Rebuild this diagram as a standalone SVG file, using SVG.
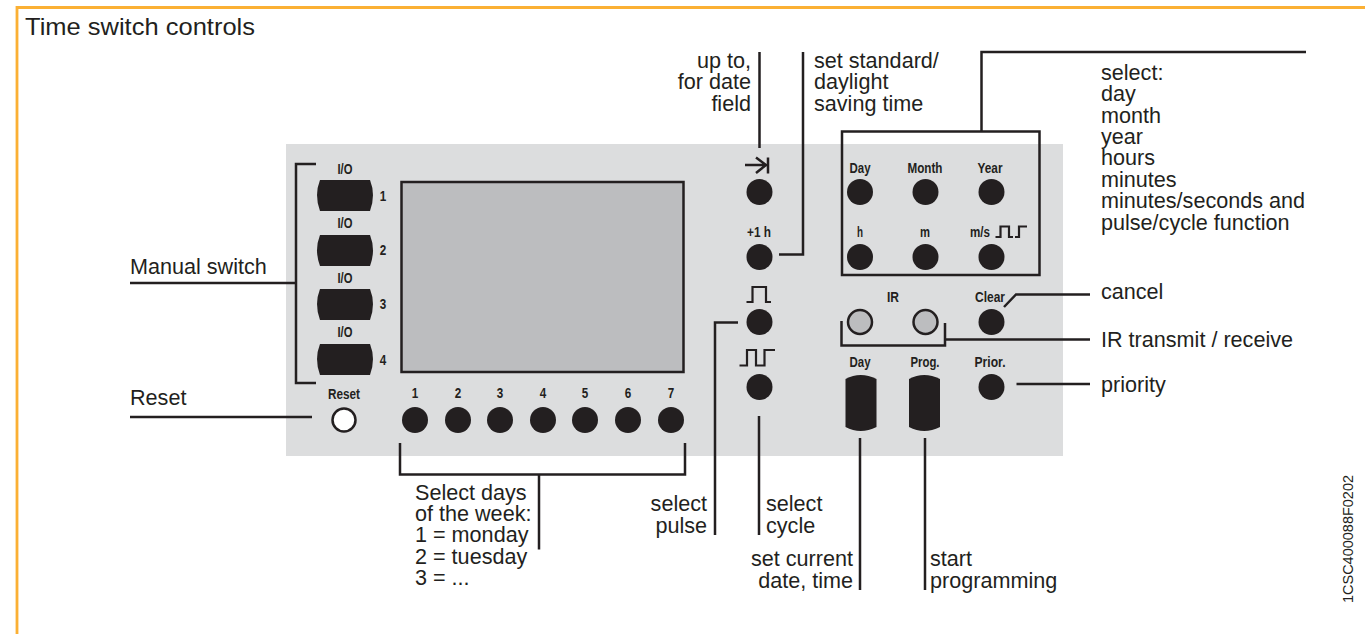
<svg xmlns="http://www.w3.org/2000/svg" width="1365" height="634" viewBox="0 0 1365 634">
<style>
text{font-family:"Liberation Sans",Arial,sans-serif;fill:#231f20}
.t{font-size:21.600px}
.l{font-size:14.500px;font-weight:bold;text-anchor:middle}
.w{fill:none;stroke:#231f20;stroke-width:2.500}
.s{fill:none;stroke:#231f20;stroke-width:2.200}
.b{fill:#231f20}
</style>
<defs>
<path id="sw" d="M3 0H53Q59 15 53 31H3Q-3 15 3 0Z"/>
<path id="key" d="M0 4Q15 -4 31 4V52Q15 60 0 52Z"/>
</defs>
<rect width="1365" height="634" fill="#fff"/>
<path d="M17 634V7.500H1365" fill="none" stroke="#fbb034" stroke-width="2.800"/>
<text x="25" y="35" style="font-size:23.800px;" textLength="230" lengthAdjust="spacingAndGlyphs">Time switch controls</text>
<rect id="panel" x="286" y="144" width="777" height="312" fill="#dcddde"/>
<rect id="display" x="401.500" y="182" width="282" height="190" fill="#bcbdbf" stroke="#231f20" stroke-width="2.500"/>
<g id="connectors">
<path class="w" d="M316 164H296V383H316M296 283H130M312 417H130"/>
<path class="w" d="M400 443V474.500H685V443M539 474V549.500"/>
<path class="w" d="M759.500 52V148M779 254.500H803V52M842 131.500H1039.500V275H842ZM981.500 131V52H1306"/>
<path class="w" d="M738 322.500H715V535M759 416V535M860 438V590M925 438V590"/>
<path class="w" d="M841.500 321V345.500H945V323M945 339.500H1090M1004 307L1016 294.500H1090M1016.500 384H1090"/>
</g>
<g id="manual-switches" class="b">
<use href="#sw" x="317" y="180"/><use href="#sw" x="317" y="235"/><use href="#sw" x="317" y="289"/><use href="#sw" x="317" y="344"/>
</g>
<g id="manual-labels">
<text class="l" x="345" y="174" textLength="15" lengthAdjust="spacingAndGlyphs">I/O</text>
<text class="l" x="345" y="228" textLength="15" lengthAdjust="spacingAndGlyphs">I/O</text>
<text class="l" x="345" y="283" textLength="15" lengthAdjust="spacingAndGlyphs">I/O</text>
<text class="l" x="345" y="337" textLength="15" lengthAdjust="spacingAndGlyphs">I/O</text>
<text class="l" x="383" y="201" textLength="6.500" lengthAdjust="spacingAndGlyphs">1</text><text class="l" x="383" y="255" textLength="6.500" lengthAdjust="spacingAndGlyphs">2</text><text class="l" x="383" y="309" textLength="6.500" lengthAdjust="spacingAndGlyphs">3</text><text class="l" x="383" y="365" textLength="6.500" lengthAdjust="spacingAndGlyphs">4</text>
</g>
<g id="reset">
<text class="l" x="344" y="399" textLength="32" lengthAdjust="spacingAndGlyphs">Reset</text>
<circle cx="344" cy="420" r="11.500" fill="#fff" stroke="#231f20" stroke-width="2.500"/>
</g>
<g id="day-buttons">
<g class="b"><circle cx="415" cy="420" r="13"/><circle cx="458" cy="420" r="13"/><circle cx="500" cy="420" r="13"/><circle cx="543" cy="420" r="13"/><circle cx="585" cy="420" r="13"/><circle cx="628" cy="420" r="13"/><circle cx="671" cy="420" r="13"/></g>
<text class="l" x="415" y="398" textLength="6.500" lengthAdjust="spacingAndGlyphs">1</text><text class="l" x="458" y="398" textLength="6.500" lengthAdjust="spacingAndGlyphs">2</text><text class="l" x="500" y="398" textLength="6.500" lengthAdjust="spacingAndGlyphs">3</text><text class="l" x="543" y="398" textLength="6.500" lengthAdjust="spacingAndGlyphs">4</text><text class="l" x="585" y="398" textLength="6.500" lengthAdjust="spacingAndGlyphs">5</text><text class="l" x="628" y="398" textLength="6.500" lengthAdjust="spacingAndGlyphs">6</text><text class="l" x="671" y="398" textLength="6.500" lengthAdjust="spacingAndGlyphs">7</text>
</g>
<g id="middle-buttons">
<g class="b"><circle cx="759.500" cy="192" r="13"/><circle cx="759.500" cy="257" r="13"/><circle cx="759.500" cy="322" r="13"/><circle cx="759.500" cy="387" r="13"/></g>
<path class="w" d="M745 165H766M756 157.500L766 165L756 173M768 157.500V173.500"/>
<text class="l" x="759" y="237" textLength="24" lengthAdjust="spacingAndGlyphs">+1 h</text>
<path class="s" d="M746.500 302H752.500V287H766V302H771"/>
<path class="s" d="M739.500 365.500H747V350H756V365.500H764.500V350H775"/>
</g>
<g id="select-buttons">
<g class="b"><circle cx="860" cy="192" r="13"/><circle cx="925.500" cy="192" r="13"/><circle cx="991.500" cy="192" r="13"/><circle cx="860" cy="257" r="13"/><circle cx="925.500" cy="257" r="13"/><circle cx="991.500" cy="257" r="13"/></g>
<text class="l" x="860" y="173" textLength="21" lengthAdjust="spacingAndGlyphs">Day</text>
<text class="l" x="925" y="173" textLength="35" lengthAdjust="spacingAndGlyphs">Month</text>
<text class="l" x="990" y="173" textLength="25" lengthAdjust="spacingAndGlyphs">Year</text>
<text class="l" x="860" y="237" textLength="6" lengthAdjust="spacingAndGlyphs">h</text><text class="l" x="925" y="237" textLength="10" lengthAdjust="spacingAndGlyphs">m</text>
<text class="l" x="980" y="237" textLength="20" lengthAdjust="spacingAndGlyphs">m/s</text>
<path class="s" d="M995.500 237H1000.500V226.500H1009V237H1013M1015 237H1019V226.500H1027"/>
</g>
<g id="ir">
<text class="l" x="893" y="302" textLength="12" lengthAdjust="spacingAndGlyphs">IR</text>
<circle cx="860" cy="322" r="12" fill="#bcbdbf" stroke="#231f20" stroke-width="2.500"/>
<circle cx="925.500" cy="322" r="12" fill="#bcbdbf" stroke="#231f20" stroke-width="2.500"/>
</g>
<g id="lower-buttons">
<text class="l" x="990" y="302" textLength="30" lengthAdjust="spacingAndGlyphs">Clear</text>
<circle class="b" cx="991.500" cy="322" r="13"/>
<text class="l" x="860" y="367" textLength="21" lengthAdjust="spacingAndGlyphs">Day</text>
<text class="l" x="925" y="367" textLength="29" lengthAdjust="spacingAndGlyphs">Prog.</text>
<text class="l" x="990" y="367" textLength="31" lengthAdjust="spacingAndGlyphs">Prior.</text>
<use class="b" href="#key" x="845.500" y="375"/><use class="b" href="#key" x="909" y="375"/>
<circle class="b" cx="991.500" cy="387" r="13"/>
</g>
<g id="callouts" class="t">
<text x="130" y="274">Manual switch</text>
<text x="130" y="405">Reset</text>
<text x="415" y="499.500">Select days</text><text x="415" y="521">of the week:</text><text x="415" y="542">1 = monday</text><text x="415" y="564">2 = tuesday</text><text x="415" y="585">3 = ...</text>
<g text-anchor="end"><text x="751" y="67.500">up to,</text><text x="751" y="89">for date</text><text x="751" y="110.500">field</text>
<text x="707" y="511">select</text><text x="707" y="532.500">pulse</text>
<text x="853" y="566">set current</text><text x="853" y="588">date, time</text></g>
<text x="814" y="67.500">set standard/</text><text x="814" y="89">daylight</text><text x="814" y="110.500">saving time</text>
<text x="1101" y="79.500">select:</text><text x="1101" y="101">day</text><text x="1101" y="122.500">month</text><text x="1101" y="144">year</text><text x="1101" y="165">hours</text><text x="1101" y="186.500">minutes</text><text x="1101" y="208">minutes/seconds and</text><text x="1101" y="229.500">pulse/cycle function</text>
<text x="1101" y="299">cancel</text><text x="1101" y="347">IR transmit / receive</text><text x="1101" y="392">priority</text>
<text x="766" y="511">select</text><text x="766" y="532.500">cycle</text>
<text x="930" y="566">start</text><text x="930" y="587.500">programming</text>
</g>
<text transform="translate(1352.500 603) rotate(-90)" style="font-size:15px" textLength="128" lengthAdjust="spacingAndGlyphs">1CSC400088F0202</text>
</svg>
